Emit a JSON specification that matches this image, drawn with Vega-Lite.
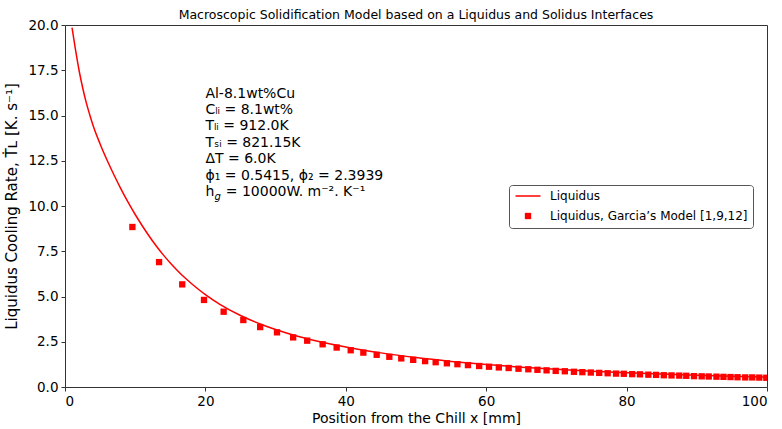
{
  "$schema": "https://vega.github.io/schema/vega-lite/v6.json",
  "width": 702,
  "height": 362,
  "autosize": {"type": "none"},
  "padding": {"left": 65, "top": 25, "right": 15, "bottom": 42},
  "background": "white",
  "title": {
    "text": "Macroscopic Solidification Model based on a Liquidus and Solidus Interfaces",
    "font": "DejaVu Sans",
    "fontSize": 12.5,
    "fontWeight": "normal",
    "color": "black",
    "anchor": "middle",
    "offset": -3
  },
  "datasets": {
    "liquidus": [
      {"x": 1, "y": 19.85}, {"x": 1.5, "y": 18.62}, {"x": 2, "y": 17.5}, {"x": 2.5, "y": 16.56},
      {"x": 3, "y": 15.75}, {"x": 3.5, "y": 15.07}, {"x": 4, "y": 14.45}, {"x": 5, "y": 13.43},
      {"x": 6, "y": 12.53}, {"x": 7, "y": 11.7}, {"x": 8, "y": 10.92}, {"x": 9, "y": 10.2},
      {"x": 10, "y": 9.53}, {"x": 11, "y": 8.91}, {"x": 12, "y": 8.33}, {"x": 13, "y": 7.79},
      {"x": 14, "y": 7.3}, {"x": 15, "y": 6.85}, {"x": 16, "y": 6.44}, {"x": 17, "y": 6.06},
      {"x": 18, "y": 5.72}, {"x": 19, "y": 5.4}, {"x": 20, "y": 5.1}, {"x": 22, "y": 4.58},
      {"x": 25, "y": 3.95}, {"x": 28, "y": 3.455}, {"x": 30, "y": 3.175}, {"x": 33, "y": 2.815},
      {"x": 36, "y": 2.53}, {"x": 40, "y": 2.21}, {"x": 45, "y": 1.885}, {"x": 50, "y": 1.625},
      {"x": 55, "y": 1.415}, {"x": 60, "y": 1.24}, {"x": 65, "y": 1.095}, {"x": 70, "y": 0.975},
      {"x": 75, "y": 0.875}, {"x": 80, "y": 0.79}, {"x": 85, "y": 0.7175}, {"x": 90, "y": 0.655},
      {"x": 95, "y": 0.6}, {"x": 100, "y": 0.5525}
    ],
    "garcia": [
      {"x": 9.6, "y": 8.84}, {"x": 13.4, "y": 6.9}, {"x": 16.7, "y": 5.67}, {"x": 19.8, "y": 4.81},
      {"x": 22.6, "y": 4.16}, {"x": 25.4, "y": 3.7}, {"x": 27.8, "y": 3.31}, {"x": 30.2, "y": 3.02},
      {"x": 32.5, "y": 2.74}, {"x": 34.5, "y": 2.56}, {"x": 36.7, "y": 2.36}, {"x": 38.7, "y": 2.18},
      {"x": 40.7, "y": 2.03}, {"x": 42.5, "y": 1.9}, {"x": 44.4, "y": 1.78}, {"x": 46.2, "y": 1.67},
      {"x": 47.9, "y": 1.58}, {"x": 49.6, "y": 1.5}, {"x": 51.3, "y": 1.43}, {"x": 52.8, "y": 1.37},
      {"x": 54.4, "y": 1.31}, {"x": 55.9, "y": 1.26}, {"x": 57.4, "y": 1.21}, {"x": 59.0, "y": 1.16},
      {"x": 60.4, "y": 1.12}, {"x": 61.8, "y": 1.08}, {"x": 63.2, "y": 1.05}, {"x": 64.6, "y": 1.01},
      {"x": 66.0, "y": 0.98}, {"x": 67.3, "y": 0.95}, {"x": 68.6, "y": 0.92}, {"x": 69.9, "y": 0.89},
      {"x": 71.2, "y": 0.87}, {"x": 72.5, "y": 0.84}, {"x": 73.7, "y": 0.82}, {"x": 74.9, "y": 0.8},
      {"x": 76.1, "y": 0.78}, {"x": 77.3, "y": 0.76}, {"x": 78.5, "y": 0.74}, {"x": 79.6, "y": 0.73},
      {"x": 80.8, "y": 0.71}, {"x": 81.9, "y": 0.7}, {"x": 83.1, "y": 0.68}, {"x": 84.2, "y": 0.67},
      {"x": 85.3, "y": 0.65}, {"x": 86.4, "y": 0.64}, {"x": 87.5, "y": 0.63}, {"x": 88.5, "y": 0.62},
      {"x": 89.6, "y": 0.6}, {"x": 90.7, "y": 0.59}, {"x": 91.7, "y": 0.58}, {"x": 92.8, "y": 0.57},
      {"x": 93.8, "y": 0.56}, {"x": 94.8, "y": 0.55}, {"x": 95.8, "y": 0.54}, {"x": 96.9, "y": 0.53},
      {"x": 97.9, "y": 0.53}, {"x": 98.9, "y": 0.52}, {"x": 99.9, "y": 0.51}
    ]
  },
  "config": {
    "view": {"stroke": "#333333", "strokeWidth": 1},
    "axis": {
      "domain": false,
      "grid": false,
      "ticks": true,
      "tickColor": "#333333",
      "tickSize": 4,
      "labelFont": "DejaVu Sans",
      "labelFontSize": 13.5,
      "labelColor": "black",
      "labelPadding": 3,
      "titleFont": "DejaVu Sans",
      "titleFontSize": 14,
      "titleFontWeight": "normal",
      "titleColor": "black"
    }
  },
  "layer": [
    {
      "data": {"name": "liquidus"},
      "mark": {"type": "line", "color": "#ff0000", "strokeWidth": 1.5, "interpolate": "monotone", "clip": true},
      "encoding": {
        "x": {
          "field": "x", "type": "quantitative",
          "scale": {"domain": [0, 100], "nice": false},
          "axis": {"values": [0, 20, 40, 60, 80, 100], "title": "Position from the Chill x [mm]", "titlePadding": 4}
        },
        "y": {
          "field": "y", "type": "quantitative",
          "scale": {"domain": [0, 20], "nice": false},
          "axis": {"values": [0, 2.5, 5, 7.5, 10, 12.5, 15, 17.5, 20], "format": ".1f", "title": "Liquidus Cooling Rate, Ṫʟ [K. s⁻¹]", "titleFontSize": 15, "titlePadding": 8}
        }
      }
    },
    {
      "data": {"name": "garcia"},
      "transform": [{"calculate": "'Liquidus, Garcia’s Model [1,9,12]'", "as": "series"}],
      "mark": {"type": "point", "filled": true, "color": "#ff0000", "opacity": 1, "size": 40, "clip": true},
      "encoding": {
        "x": {"field": "x", "type": "quantitative"},
        "y": {"field": "y", "type": "quantitative"},
        "shape": {
          "field": "series", "type": "nominal",
          "scale": {"domain": ["Liquidus", "Liquidus, Garcia’s Model [1,9,12]"], "range": ["M-3.95,-0.24H3.95V0.24H-3.95Z", "square"]},
          "legend": {
            "title": null,
            "orient": "none",
            "legendX": 444,
            "legendY": 160,
            "direction": "vertical",
            "labelFont": "DejaVu Sans",
            "labelFontSize": 12,
            "labelColor": "black",
            "labelLimit": 400,
            "labelOffset": 16,
            "symbolOffset": 8,
            "symbolSize": 40,
            "symbolFillColor": "#ff0000",
            "strokeColor": "#555555",
            "fillColor": "white",
            "cornerRadius": 3,
            "padding": 5,
            "rowPadding": 7
          }
        }
      }
    },
    {
      "data": {"values": [{}]},
      "mark": {"type": "text", "align": "left", "baseline": "top", "font": "DejaVu Sans", "fontSize": 14, "lineHeight": 16.4, "color": "black"},
      "encoding": {
        "x": {"datum": 20},
        "y": {"datum": 16.6},
        "text": {"value": ["Al-8.1wt%Cu", "Cₗᵢ = 8.1wt%", "Tₗᵢ = 912.0K", "Tₛᵢ = 821.15K", "ΔT = 6.0K", "ϕ₁ = 0.5415, ϕ₂ = 2.3939", "h\u2002 = 10000W. m⁻². K⁻¹"]}
      }
    },
    {
      "data": {"values": [{}]},
      "mark": {"type": "text", "align": "left", "baseline": "top", "font": "DejaVu Sans", "fontSize": 10, "fontStyle": "italic", "color": "black", "dx": 9},
      "encoding": {
        "x": {"datum": 20},
        "y": {"datum": 10.8},
        "text": {"value": "g"}
      }
    }
  ]
}
